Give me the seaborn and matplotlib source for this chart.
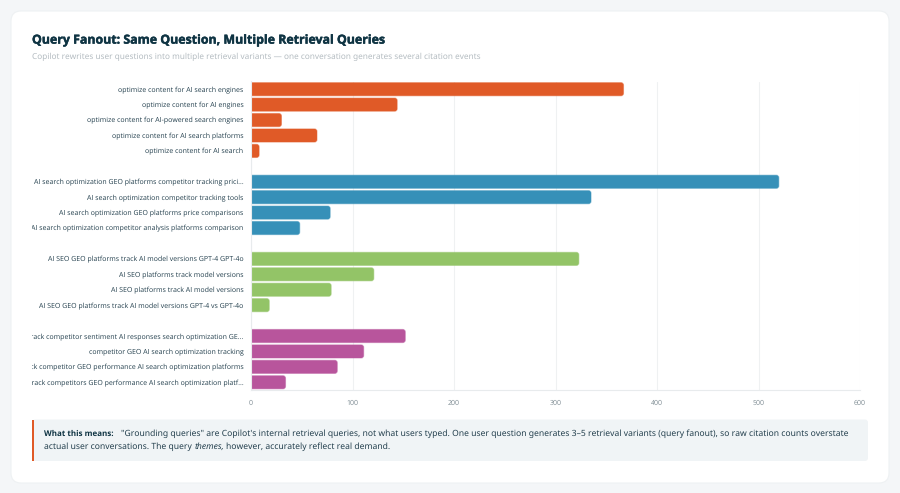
import matplotlib
matplotlib.use('Agg')
import matplotlib.pyplot as plt
import matplotlib.patheffects as pe
from matplotlib.patches import FancyBboxPatch, Rectangle
from matplotlib.transforms import Bbox
import pandas as pd
import seaborn as sns

orange_queries = ['optimize content for AI search engines', 'optimize content for AI engines',
                  'optimize content for AI-powered search engines', 'optimize content for AI search platforms',
                  'optimize content for AI search']
orange_counts = [367, 144, 30, 65, 8]
blue_queries = ['AI search optimization GEO platforms competitor tracking prici...',
                'AI search optimization competitor tracking tools',
                'AI search optimization GEO platforms price comparisons',
                'AI search optimization competitor analysis platforms comparison']
blue_counts = [520, 335, 78, 48]
green_queries = ['AI SEO GEO platforms track AI model versions GPT-4 GPT-4o',
                 'AI SEO platforms track model versions', 'AI SEO platforms track AI model versions',
                 'AI SEO GEO platforms track AI model versions GPT-4 vs GPT-4o']
green_counts = [323, 121, 79, 18]
pink_queries = ['track competitor sentiment AI responses search optimization GE...',
                'competitor GEO AI search optimization tracking',
                'track competitor GEO performance AI search optimization platforms',
                'track competitors GEO performance AI search optimization platf...']
pink_counts = [152, 111, 85, 34]
x_ticks = [0, 100, 200, 300, 400, 500, 600]

colors = {'orange': '#E05A27', 'blue': '#3690B8', 'green': '#93C467', 'pink': '#B8559C'}
FONT = 'Open Sans'
BODY_FONT = 'Noto Sans'  # Open Sans snaps to whole pixel sizes, too wide here
DARK = '#0F3443'
TEXT = '#24404E'

df = pd.DataFrame({
    'query': orange_queries + blue_queries + green_queries + pink_queries,
    'count': orange_counts + blue_counts + green_counts + pink_counts,
    'group': ['orange'] * 5 + ['blue'] * 4 + ['green'] * 4 + ['pink'] * 4,
})
# blank slots between the groups
order = orange_queries + [' '] + blue_queries + ['  '] + green_queries + ['   '] + pink_queries

sns.set_theme(style='white')
plt.rcParams['font.family'] = [FONT, 'DejaVu Sans']
plt.rcParams['text.hinting'] = 'no_hinting'
plt.rcParams['text.hinting_factor'] = 1

W, H = 900, 493
BODY = 6.18
fig = plt.figure(figsize=(9, 4.93), dpi=100, facecolor='#F4F6F8')

# background layer in pixel coordinates
bg = fig.add_axes([0, 0, 1, 1], zorder=0)
bg.set_xlim(0, W)
bg.set_ylim(H, 0)
bg.axis('off')
bg.add_patch(FancyBboxPatch((11, 11), 878, 472, boxstyle='round,pad=0,rounding_size=10',
                            fc='white', ec='#EEF1F3', lw=0.8))
bg.text(32, 40.5, 'Query Fanout: Same Question, Multiple Retrieval Queries', fontsize=8.9,
        fontweight='bold', color=DARK, va='center', ha='left',
        path_effects=[pe.withStroke(linewidth=0.3, foreground=DARK)])
bg.text(32, 57, 'Copilot rewrites user questions into multiple retrieval variants \u2014 one conversation generates several citation events',
        fontsize=5.94, family=BODY_FONT, color='#B4BCC1', va='center', ha='left')

# callout box
bg.add_patch(FancyBboxPatch((32, 419.5), 836, 41.5, boxstyle='round,pad=0,rounding_size=3',
                            fc='#F0F4F6', ec='none'))
bg.add_patch(Rectangle((32, 419.5), 2.3, 41.5, fc='#E05A27', ec='none'))

renderer = fig.canvas.get_renderer()


def write_run(x, y, pieces):
    # lay text pieces side by side, measuring each one
    for txt, color, gap, kw in pieces:
        kw = {'family': BODY_FONT, 'fontsize': BODY, **kw}
        t = bg.text(x, y, txt, color=color, va='center', ha='left', **kw)
        x += t.get_window_extent(renderer).width + gap


write_run(44.5, 433.5, [
    ('What this means:', DARK, 7, {'family': FONT, 'fontweight': 'bold', 'fontsize': 6.1}),
    ('"Grounding queries" are Copilot\'s internal retrieval queries, not what users typed. One user question generates 3\u20135 retrieval variants (query fanout), so raw citation counts overstate', TEXT, 0, {}),
])
write_run(44.5, 446.5, [
    ('actual user conversations. The query', TEXT, 2.5, {}),
    ('themes,', TEXT, 1.5, {'style': 'italic'}),
    ('however, accurately reflect real demand.', TEXT, 0, {}),
])

# main chart
ax = fig.add_axes([251 / W, 1 - 390 / H, (860 - 251) / W, (390 - 81.5) / H], zorder=1)
ax.patch.set_alpha(0)
sns.barplot(data=df, y='query', x='count', hue='group', order=order, palette=colors,
            dodge=False, legend=False, width=0.85, saturation=1, ax=ax)
ax.set_xlim(0, 600)
ax.set_ylim(len(order) - 0.5, -0.5)
ax.set_xticks(x_ticks)
ax.set_xlabel('')
ax.set_ylabel('')
ax.grid(axis='x', color='#EFF1F2', lw=0.8)
ax.set_axisbelow(True)
ax.tick_params(axis='y', length=0, pad=5.4, labelsize=5.35, labelcolor=TEXT)
ax.tick_params(axis='x', length=0, pad=7, labelsize=5.4, labelcolor='#7D8B92')
for s in ['top', 'right']:
    ax.spines[s].set_visible(False)
for s in ['left', 'bottom']:
    ax.spines[s].set_color('#E8EBED')
    ax.spines[s].set_linewidth(0.8)

# swap the square bars for rounded ones, same size
aspect = (len(order) / (390 - 81.5)) / (600 / (860 - 251))
for bar in list(ax.patches):
    w = bar.get_width()
    if not w or w != w:
        continue
    y, h = bar.get_y(), bar.get_height()
    fc = bar.get_facecolor()
    bar.remove()
    ax.add_patch(FancyBboxPatch((-6, y), w + 6, h, boxstyle='round,pad=0,rounding_size=2.5',
                                mutation_aspect=aspect, fc=fc, ec=fc[:3] + (0.45,), lw=0.8,
                                clip_path=ax.patch, zorder=2))

# long labels get cut at the left edge of the chart block
clip = Bbox([[32, 0], [W, H]])
for lab in ax.get_yticklabels():
    lab.set_clip_on(True)
    lab.set_clip_box(clip)

fig.savefig('out.png', dpi=100, facecolor=fig.get_facecolor())
